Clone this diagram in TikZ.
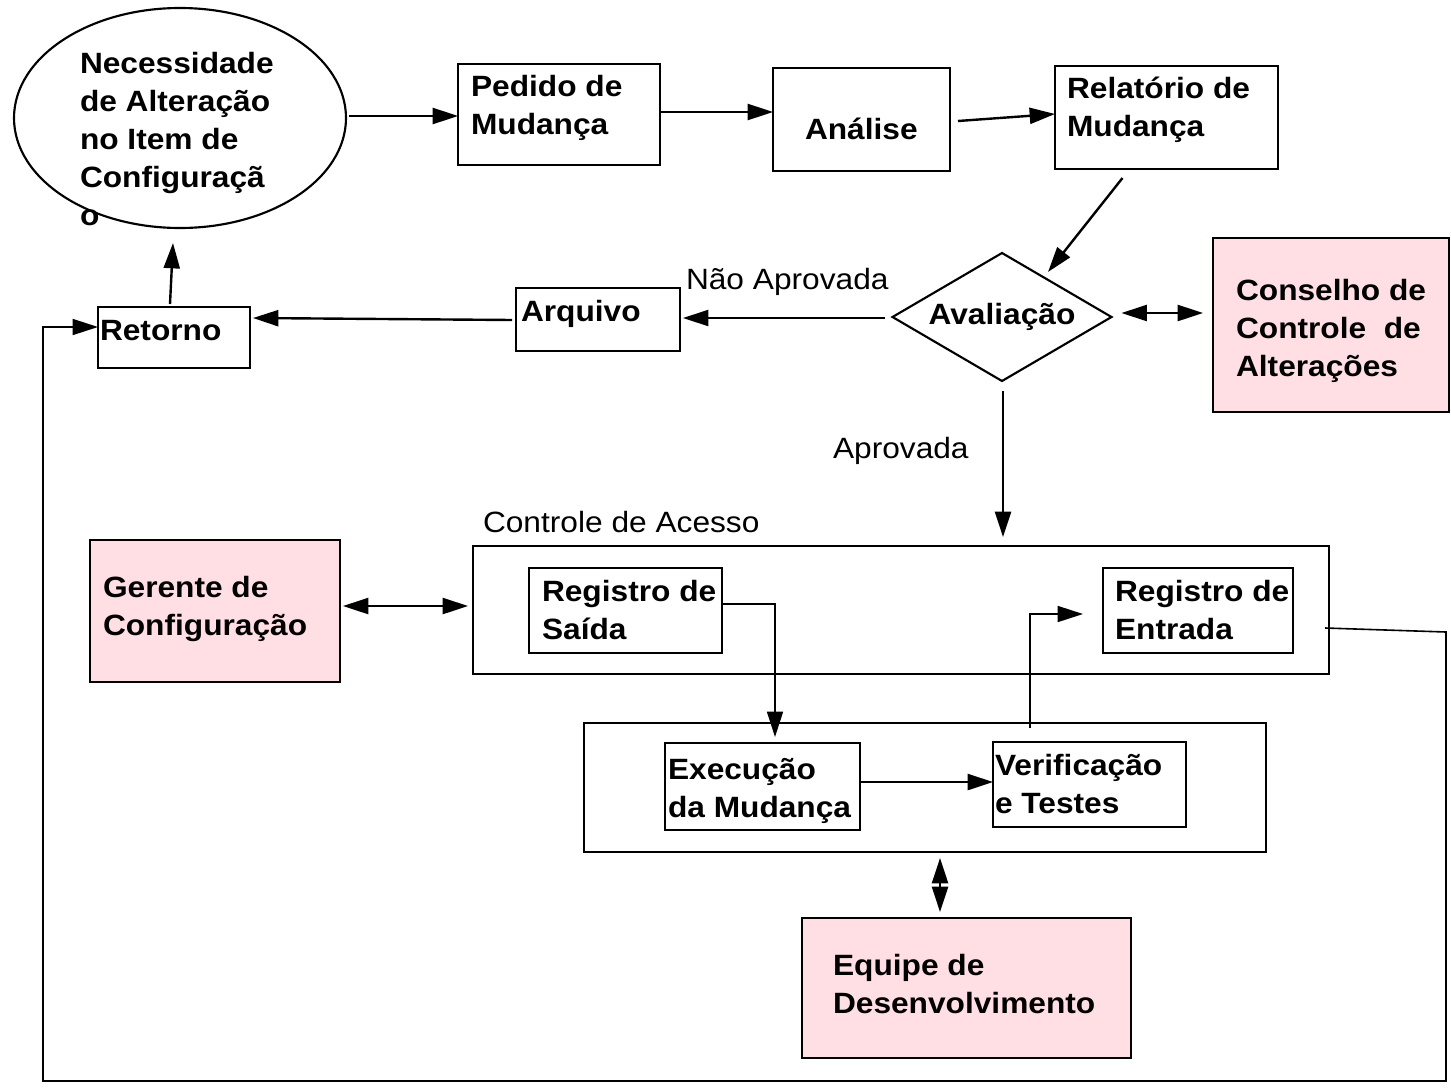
\documentclass[tikz,border=0pt]{standalone}
\usepackage{fontspec}
\setmainfont[FakeStretch=1.08]{Liberation Sans}
\usetikzlibrary{arrows.meta,shapes.geometric,calc}
\definecolor{pinkc}{HTML}{FFDFE3}
\newcommand\basefont{\fontsize{22pt}{28.5pt}\selectfont}
\newcommand\fr{\rule{0pt}{20.6pt}}
\tikzset{
  box/.style={draw, rectangle, line width=1.6pt, inner sep=0pt, outer sep=0pt},
  pinkbox/.style={box, fill=pinkc},
  sz/.style 2 args={minimum width=#1*0.75pt, minimum height=#2*0.75pt},
  txt/.style={inner sep=0pt, outer sep=0pt, anchor=north west, align=left, font=\basefont\bfseries},
  lbl/.style={inner sep=0pt, outer sep=0pt, anchor=north west, align=left, font=\basefont},
  tip/.tip={Triangle[length=19pt,width=12pt]},
  arr/.style={line width=1.8pt, -tip},
  darr/.style={line width=1.8pt, tip-tip},
  tarr/.style={line width=1.2pt, -tip},
}
\begin{document}
\begin{tikzpicture}[x=0.75pt,y=-0.75pt]
\useasboundingbox (0,0) rectangle (1451,1088);
% ---- top row
\node[ellipse, draw, line width=1.6pt, sz={332}{220}, inner sep=0pt, outer sep=0pt] (need) at (180,118) {};
\node[txt] (needt) at (80,46) {\fr Necessidade\\de Alteração\\no Item de\\Configuraçã\\o};
\node[box, sz={202}{101}] (pm) at (559,114.5) {};
\node[txt] (pmt) at (471,69) {\fr Pedido de\\Mudança};
\node[box, sz={177}{103}] (an) at (861.5,119.5) {};
\node[txt] (ant) at (805,112.5) {\fr Análise};
\node[box, sz={223}{103}] (rel) at (1166.5,117.5) {};
\node[txt] (relt) at (1067,71.5) {\fr Relatório de\\Mudança};
% ---- middle row
\node[diamond, draw, line width=1.6pt, sz={219}{128}, inner sep=0pt, outer sep=0pt, aspect=1.7, font=\basefont\bfseries] (aval) at (1002,317) {Avaliação};
\node[pinkbox, sz={236}{174}] (ccb) at (1331,325) {};
\node[txt] (ccbt) at (1236,273.5) {\fr Conselho de\\Controle\ \ de\\Alterações};
\node[box, sz={164}{63}] (arq) at (598,319.5) {};
\node[txt] (arqt) at (521,294.5) {\fr Arquivo};
\node[box, sz={152}{61}] (ret) at (174,337.5) {};
\node[txt] (rett) at (100,313.5) {\fr Retorno};
\node[lbl] (nap) at (686,262.5) {\fr Não Aprovada};
\node[lbl] (apr) at (833,431.5) {\fr Aprovada};
% ---- access control
\node[lbl] (cal) at (483,505.5) {\fr Controle de Acesso};
\node[pinkbox, sz={250}{142}] (ger) at (215,611) {};
\node[txt] (gert) at (103,570.5) {\fr Gerente de\\Configuração};
\node[box, sz={856}{128}] (ca) at (901,610) {};
\node[box, sz={193}{85}] (rs) at (625.5,610.5) {};
\node[txt] (rst) at (542,574.5) {\fr Registro de\\Saída};
\node[box, sz={190}{85}] (re) at (1198,610.5) {};
\node[txt] (ret2) at (1115,574.5) {\fr Registro de\\Entrada};
% ---- development
\node[box, sz={682}{129}] (dev) at (925,787.5) {};
\node[box, sz={195}{87}] (ex) at (762.5,786.5) {};
\node[txt] (ext) at (668,752.5) {\fr Execução\\da Mudança};
\node[box, sz={193}{85}] (ver) at (1089.5,784.5) {};
\node[txt] (vert) at (995,748.5) {\fr Verificação\\e Testes};
\node[pinkbox, sz={329}{140}] (eq) at (966.5,988) {};
\node[txt] (eqt) at (833,948.5) {\fr Equipe de\\Desenvolvimento};
% ---- loop corners
\coordinate (lp1) at (1446,632);
\coordinate (lp2) at (1446,1081);
\coordinate (lp3) at (43,1081);
\coordinate (lp4) at (43,327);
% ---- connectors
\draw[arr] ($(need.east)+(3,-2)$) -- ($(pm.west)+(0,1.5)$);
\draw[arr] ($(pm.east)+(0,-2.5)$) -- ($(an.west)+(0,-7.5)$);
\draw[arr] ($(an.east)+(8,1.5)$) -- ($(rel.west)+(0,-3.5)$);
\draw[arr] ($(rel.south)+(-44,9)$) -- ($(aval.center)+(46,-45)$);
\draw[darr] ($(aval.east)+(10,-4)$) -- ($(ccb.west)+(-10,-12)$);
\draw[arr] ($(aval.west)+(-8,1)$) -- ($(arq.east)+(3,-1.5)$);
\draw[arr] ($(arq.west)+(-4,0.5)$) -- ($(ret.east)+(3,-19.5)$);
\draw[arr] ($(ret.north)+(-4,-3)$) -- ($(need.south)+(-7,15)$);
\draw[arr] ($(aval.south)+(1,10)$) -- ($(ca.north)+(102,-9)$);
\draw[darr] ($(ger.east)+(3,-5)$) -- ($(ca.west)+(-5,-4)$);
\draw[tarr] ($(rs.east)+(0,-6.5)$) -| ($(ex.north)+(12.5,-6)$);
\draw[arr] ($(ex.east)+(0,-4.5)$) -- ($(ver.west)+(0,-2.5)$);
\draw[tarr] ($(ver.north west)+(37,-14)$) |- ($(re.west)+(-20,3.5)$);
\draw[darr] ($(dev.south)+(15,6)$) -- ($(eq.north)+(-26.5,-6)$);
\draw[tarr] ($(ca.east)+(-4,18)$) -- (lp1) -- (lp2) -- (lp3) -- (lp4) -- ($(ret.west)+(0,-10.5)$);
\end{tikzpicture}
\end{document}
